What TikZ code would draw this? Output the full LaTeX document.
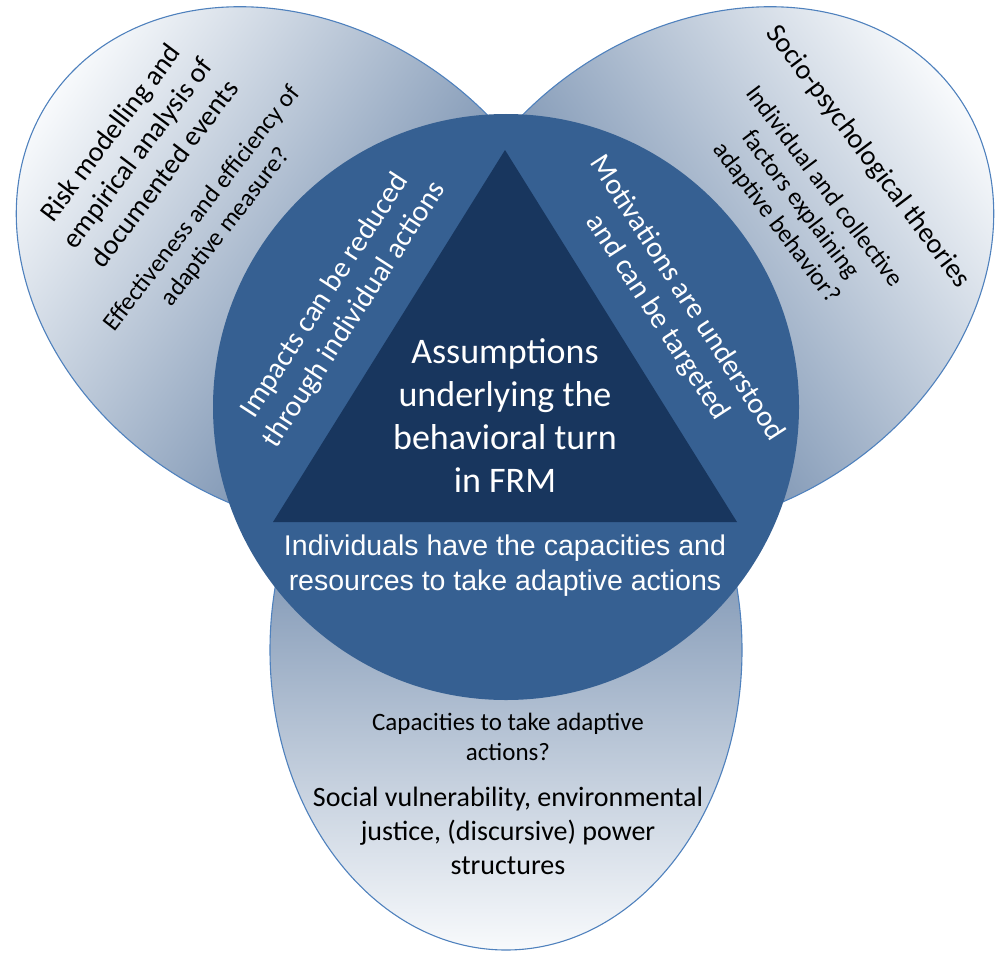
\documentclass[tikz,border=0pt]{standalone}
\usepackage{fontspec}
\setmainfont{Carlito}
\newfontfamily\arialfont{Liberation Sans}
\usepackage{xcolor}
\definecolor{petaldark}{RGB}{66,100,144}
\definecolor{petallight}{RGB}{248,250,252}
\definecolor{petalline}{RGB}{79,129,189}
\definecolor{ringblue}{RGB}{54,96,146}
\definecolor{coreblue}{RGB}{24,54,94}

\begin{document}
\begin{tikzpicture}[x=1pt, y=-1pt,
    petal/.style={left color=petaldark, right color=petallight, draw=petalline, line width=1.1pt},
    petaltitle/.style={align=center, inner sep=0pt, text=black, font=\fontsize{28}{34}\selectfont},
    petalsub/.style={align=center, inner sep=0pt, text=black, font=\fontsize{25}{30}\selectfont},
    ringtext/.style={align=center, inner sep=0pt, text=white, font=\fontsize{29.5}{35}\selectfont},
    coretext/.style={align=center, inner sep=0pt, text=white, font=\fontsize{36}{43}\selectfont},
    basetext/.style={align=center, inner sep=0pt, text=white, font=\arialfont\fontsize{28.5}{35}\selectfont}]
  \useasboundingbox (0,0) rectangle (1000,955);

  % the three petals
  \begin{scope}[transform canvas={shift={(298,268)}, rotate=145}]
    \shadedraw[petal] (0,0) ellipse [x radius=300, y radius=240];
  \end{scope}
  \begin{scope}[transform canvas={shift={(712,268)}, rotate=35}]
    \shadedraw[petal] (0,0) ellipse [x radius=300, y radius=240];
  \end{scope}
  \begin{scope}[transform canvas={shift={(506,650)}, rotate=-90}]
    \shadedraw[petal] (0,0) ellipse [x radius=300, y radius=236];
  \end{scope}

  % ring and core
  \node[circle, fill=ringblue, minimum size=586pt, inner sep=0pt] (ring) at (506,407) {};
  \coordinate (apex) at (505,150);
  \coordinate (baseL) at (273,522);
  \coordinate (baseR) at (737,522);
  \fill[coreblue] (apex) -- (baseL) -- (baseR) -- cycle;

  % petal texts
  \node[petaltitle, rotate=53] (riskhead) at (137,153) {Risk modelling and\\empirical analysis of\\documented events};
  \node[petalsub, rotate=52] (riskask) at (214,218) {Effectiveness and efficiency of\\adaptive measure?};
  \node[petaltitle, rotate=-53] (sociohead) at (868,157) {Socio-psychological theories};
  \node[petalsub, rotate=-53] (socioask) at (800,205) {Individual and collective\\factors explaining\\adaptive behavior?};
  \node[petalsub] (capask) at (508,737) {Capacities to take adaptive\\actions?};
  \node[petaltitle] (caphead) at (508,831) {Social vulnerability, environmental\\justice, (discursive) power\\structures};

  % ring texts
  \node[ringtext, rotate=57] (impacts) at (340,305) {Impacts can be reduced\\through individual actions};
  \node[ringtext, rotate=-57] (motives) at (672,308) {Motivations are understood\\and can be targeted};
  \node[basetext] (capacity) at (505,566) {Individuals have the capacities and\\resources to take adaptive actions};
  \node[coretext] (core) at (505,416) {Assumptions\\underlying the\\behavioral turn\\in FRM};
\end{tikzpicture}
\end{document}
